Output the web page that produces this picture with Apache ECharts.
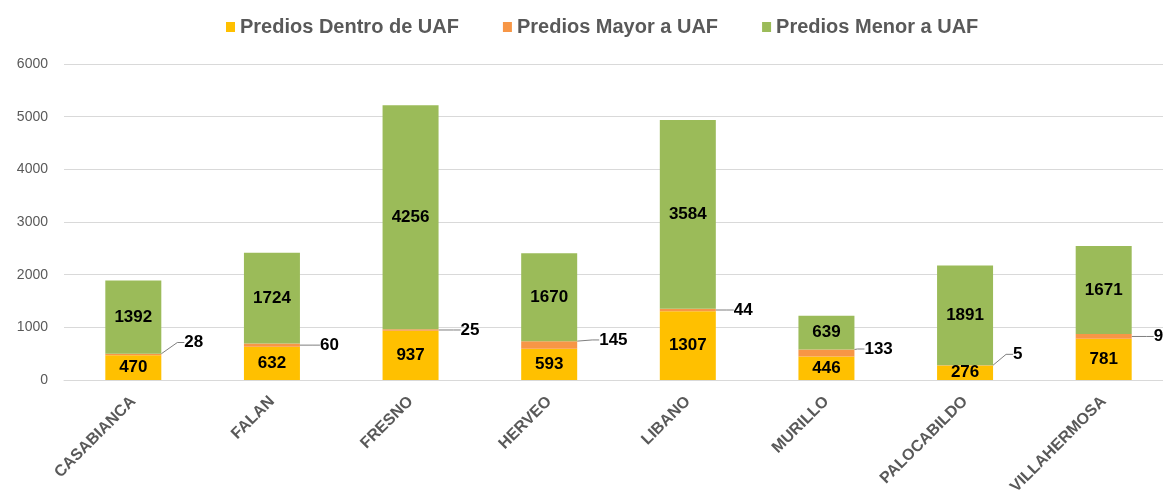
<!DOCTYPE html>
<html>
<head>
<meta charset="utf-8">
<script src="https://cdn.jsdelivr.net/npm/echarts@6/dist/echarts.min.js"></script>
<style>
  html, body { margin: 0; padding: 0; background: #ffffff; }
  #chart { width: 1163px; height: 495px; }
</style>
</head>
<body>
<div id="chart"></div>
<script>
// Municipios y número de predios por categoría de UAF
const municipios = ['CASABIANCA', 'FALAN', 'FRESNO', 'HERVEO', 'LIBANO', 'MURILLO', 'PALOCABILDO', 'VILLAHERMOSA'];
const prediosDentro = [470, 632, 937, 593, 1307, 446, 276, 781];
const prediosMayor = [28, 60, 25, 145, 44, 133, 5, 91];
const prediosMenor = [1392, 1724, 4256, 1670, 3584, 639, 1891, 1671];
const nombresSeries = ['Predios Dentro de UAF', 'Predios Mayor a UAF', 'Predios Menor a UAF'];
const ejeY = { min: 0, max: 6000, interval: 1000 };

// Desplazamiento (px) de las etiquetas "Mayor a UAF" respecto al borde derecho de la barra
const desplazamientoEtiquetaMayor = [[23, -12], [20, 0], [22, 0], [22, -5], [18, 0], [10, -4], [20, -11], [22, 0]];

const FONT = '"Liberation Sans", Arial, sans-serif';
const colores = ['#FFC000', '#F79646', '#9BBB59'];

const etiquetaValor = {
  show: true,
  position: 'inside',
  color: '#000000',
  fontFamily: FONT,
  fontWeight: 'bold',
  fontSize: 17
};

const chart = echarts.init(document.getElementById('chart'), null, { renderer: 'canvas' });

chart.setOption({
  animation: false,
  backgroundColor: '#ffffff',
  legend: {
    left: 221,
    top: 12,
    itemWidth: 9,
    itemHeight: 10,
    itemGap: 44,
    icon: 'rect',
    textStyle: { color: '#595959', fontFamily: FONT, fontWeight: 'bold', fontSize: 20 },
    data: nombresSeries
  },
  // the plot area runs a little past the right edge of the canvas
  grid: { left: 64, width: 1109, top: 64, bottom: 115, containLabel: false, outerBoundsMode: 'none' },
  xAxis: {
    type: 'category',
    data: municipios,
    axisLine: { show: true, lineStyle: { color: '#d9d9d9', width: 1 } },
    axisTick: { show: false },
    axisLabel: {
      rotate: 45,
      interval: 0,
      margin: 19,
      color: '#595959',
      fontFamily: FONT,
      fontWeight: 'bold',
      fontSize: 16
    }
  },
  yAxis: {
    type: 'value',
    min: ejeY.min,
    max: ejeY.max,
    interval: ejeY.interval,
    axisLine: { show: false },
    axisTick: { show: false },
    splitLine: { lineStyle: { color: '#d9d9d9', width: 1 } },
    axisLabel: {
      margin: 16,
      color: '#595959',
      fontFamily: FONT,
      fontSize: 14,
      formatter: function (v) { return String(v); }
    }
  },
  series: [
    {
      name: nombresSeries[0],
      type: 'bar',
      stack: 'total',
      barWidth: 56,
      itemStyle: { color: colores[0] },
      label: etiquetaValor,
      data: prediosDentro
    },
    {
      name: nombresSeries[1],
      type: 'bar',
      stack: 'total',
      barWidth: 56,
      itemStyle: { color: colores[1] },
      label: {
        show: true,
        position: 'right',
        distance: 0,
        padding: [0, 0, 0, 5],
        color: '#000000',
        fontFamily: FONT,
        fontWeight: 'bold',
        fontSize: 17
      },
      labelLine: { show: true, length2: 7, lineStyle: { color: '#7f7f7f', width: 1 } },
      labelLayout: function (p) {
        const d = desplazamientoEtiquetaMayor[p.dataIndex];
        return { dx: d[0] - 5, dy: d[1] };
      },
      data: prediosMayor
    },
    {
      name: nombresSeries[2],
      type: 'bar',
      stack: 'total',
      barWidth: 56,
      itemStyle: { color: colores[2] },
      label: etiquetaValor,
      data: prediosMenor
    }
  ]
});
</script>
</body>
</html>
